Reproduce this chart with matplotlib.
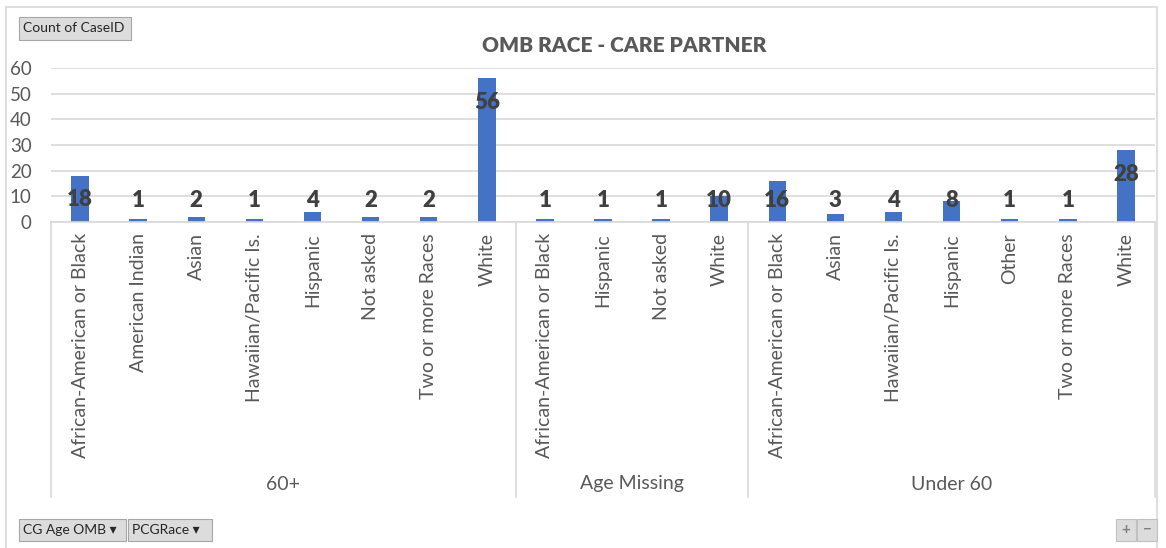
import matplotlib.pyplot as plt
import matplotlib.transforms as mtransforms
from matplotlib.patches import Rectangle, FancyBboxPatch
from matplotlib.lines import Line2D

plt.rcParams['font.family'] = ['Lato', 'DejaVu Sans']

# Pivot chart data: count of CaseID by caregiver age group and race
age_groups = ['60+', 'Age Missing', 'Under 60']
races_60_plus = ['African-American or Black', 'American Indian', 'Asian',
                 'Hawaiian/Pacific Is.', 'Hispanic', 'Not asked',
                 'Two or more Races', 'White']
counts_60_plus = [18, 1, 2, 1, 4, 2, 2, 56]
races_missing = ['African-American or Black', 'Hispanic', 'Not asked', 'White']
counts_missing = [1, 1, 1, 10]
races_under_60 = ['African-American or Black', 'Asian', 'Hawaiian/Pacific Is.',
                  'Hispanic', 'Other', 'Two or more Races', 'White']
counts_under_60 = [16, 3, 4, 8, 1, 1, 28]

groups = [races_60_plus, races_missing, races_under_60]
group_counts = [counts_60_plus, counts_missing, counts_under_60]
labels = [r for g in groups for r in g]
counts = [c for g in group_counts for c in g]

BAR = '#4472C4'
TXT = '#595959'
GRID = '#D9D9D9'

W, H = 1166, 548
fig = plt.figure(figsize=(W / 100, H / 100), dpi=100)


def px(x0, y0, x1, y1):
    # pixel box (top-left origin) -> figure fraction rect
    return [x0 / W, 1 - y1 / H, (x1 - x0) / W, (y1 - y0) / H]


# chart border
fig.patches.append(Rectangle((6 / W, -0.05), 1151 / W, 1.05 - 7 / H,
                             transform=fig.transFigure, fill=False,
                             edgecolor=GRID, lw=1.2))

ax = fig.add_axes(px(51, 68, 1155, 222))
xs = list(range(len(counts)))
ax.bar(xs, counts, width=0.3, color=BAR, zorder=2)
ax.set_xlim(-0.5, len(counts) - 0.5)
ax.set_ylim(0, 60)
ax.set_yticks(range(0, 61, 10))
ax.yaxis.grid(True, color=GRID, lw=1.2, zorder=0)
ax.set_axisbelow(True)
for s in ['top', 'right', 'left']:
    ax.spines[s].set_visible(False)
ax.spines['bottom'].set_color(GRID)
ax.spines['bottom'].set_linewidth(1.2)
ax.tick_params(axis='y', length=0, labelsize=13.5, labelcolor=TXT, pad=14)
ax.set_xticks(xs)
ax.set_xticklabels(labels, rotation=90, fontsize=14, color=TXT, va='top')
ax.tick_params(axis='x', length=0, pad=8)

# data labels, inside end (floored near the axis for short bars)
for x, v in zip(xs, counts):
    y = max(v - 9.3, 8.5)
    ax.text(x, y, str(v), ha='center', va='center', fontsize=16,
            fontweight='heavy', color='#404040', zorder=3)

# group separators and group labels below the category labels
trans = mtransforms.blended_transform_factory(ax.transData, ax.transAxes)
bottom = (222 - 497) / 154
edges = [-0.5]
for g in groups:
    edges.append(edges[-1] + len(g))
for e in edges:
    ax.add_line(Line2D([e, e], [0, bottom], transform=trans, color=GRID,
                       lw=1.2, clip_on=False))
for name, a, b in zip(age_groups, edges[:-1], edges[1:]):
    ax.text((a + b) / 2, (222 - 484) / 154, name, transform=trans,
            ha='center', va='center', fontsize=14, color=TXT)

fig.text(624 / W, 1 - 45 / H, 'OMB RACE - CARE PARTNER', ha='center',
         va='center', fontsize=15, fontweight='heavy', color=TXT)


def button(x0, y0, x1, y1, text, arrow=False):
    fig.patches.append(FancyBboxPatch(
        (x0 / W, 1 - y1 / H), (x1 - x0) / W, (y1 - y0) / H,
        boxstyle='square,pad=0', transform=fig.transFigure,
        facecolor='#DCDCDC', edgecolor='#A6A6A6', lw=0.8))
    t = text + (' \u25be' if arrow else '')
    fig.text((x0 + 4) / W, 1 - (y0 + y1) / 2 / H, t, ha='left', va='center',
             fontsize=10, color='#262626')


button(19, 17, 131, 40, 'Count of CaseID')
button(19, 519, 126, 541, 'CG Age OMB', arrow=True)
button(128, 519, 212, 541, 'PCGRace', arrow=True)
for x0, sym in [(1116, '+'), (1137, '\u2212')]:
    fig.patches.append(Rectangle((x0 / W, 1 - 541 / H), 20 / W, 22 / H,
                                 transform=fig.transFigure,
                                 facecolor='#DCDCDC', edgecolor='#C0C0C0',
                                 lw=0.8))
    fig.text((x0 + 10) / W, 1 - 530 / H, sym, ha='center', va='center',
             fontsize=11, fontweight='bold', color='#808080')

fig.savefig('out.png', dpi=100)
